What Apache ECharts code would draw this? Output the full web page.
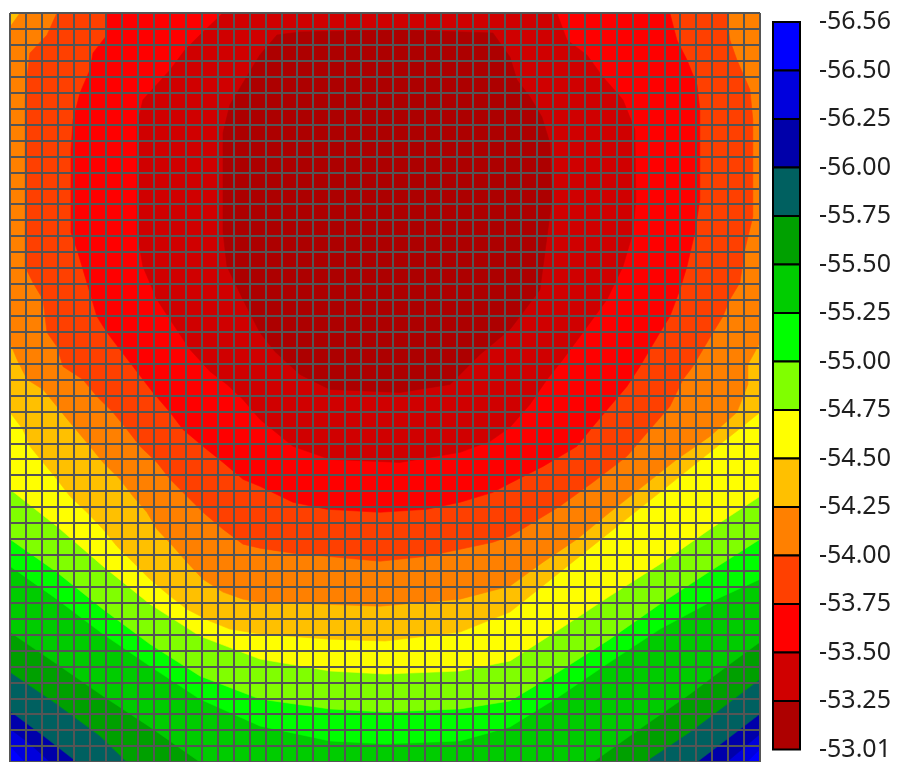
<!DOCTYPE html>
<html><head><meta charset="utf-8">
<script src="https://cdn.jsdelivr.net/npm/echarts@6/dist/echarts.min.js"></script>
<style>html,body{margin:0;padding:0;background:#fff;}#c{width:897px;height:762px;}</style>
</head><body><div id="c"></div>
<script>
// Colour-bar tick labels (top to bottom)
const colorbarLabels = ['-56.56','-56.50','-56.25','-56.00','-55.75','-55.50','-55.25','-55.00','-54.75','-54.50','-54.25','-54.00','-53.75','-53.50','-53.25','-53.01'];
// Band colours, lowest band first
const levelColors = ['#0000ff','#0000dd','#0000aa','#006060','#00a000','#00cc00','#00ff00','#80ff00','#ffff00','#ffc000','#ff8000','#ff4000','#ff0000','#d00000','#ad0000'];

// Regions where the field exceeds each contour level, in grid-cell units (x right, y down)
const wholeField = [[0,0],[47,0],[47,47],[0,47]];
const above_m56_50 = [[0,0],[47,0],[47,46.18],[46.18,47],[0.94,47],[0,45.99]];
const above_m56_25 = [[0,0],[47,0],[47,45.24],[46.05,46.05],[44.92,47],[2.51,47],[1.25,45.86],[0,44.92]];
const above_m56_00 = [[0,0],[47,0],[47,43.98],[45.11,45.43],[43.05,47],[4.2,47],[2.19,45.43],[0,43.8]];
const above_m55_75 = [[0,0],[47,0],[47,41.79],[45.11,43.23],[42.61,45.11],[39.79,47],[7.33,47],[5.64,45.36],[2.94,43.36],[0,41.35]];
const above_m55_50 = [[0,0],[47,0],[47,39.47],[45.11,40.85],[42.61,42.73],[39.47,44.92],[36.53,47],[11.9,47],[8.77,44.8],[5.83,42.86],[2.94,40.85],[0,38.85]];
const above_m55_25 = [[0,0],[47,0],[47,35.53],[43.86,36.97],[40.73,38.66],[37.59,40.73],[34.46,42.86],[31.33,44.8],[28.2,45.68],[23.5,45.86],[20.05,45.68],[15.66,44.74],[11.9,43.05],[8.77,40.98],[5.83,38.97],[2.94,36.78],[0,34.71]];
const above_m55_00 = [[0,0],[47,0],[47,33.02],[43.86,35.03],[40.73,37.09],[37.59,39.29],[34.46,41.29],[31.33,43.17],[28.2,43.67],[23.5,43.86],[20.05,43.67],[15.66,43.05],[11.9,41.6],[8.77,39.6],[5.83,37.41],[2.94,35.09],[0,33.02]];
const above_m54_75 = [[0,0],[47,0],[47,30.33],[43.86,32.39],[40.73,34.59],[37.59,36.59],[34.46,38.66],[31.33,40.66],[28.2,41.29],[23.5,41.48],[20.05,41.29],[15.66,40.54],[11.9,39.1],[8.77,37.09],[5.83,34.71],[2.94,32.21],[0,29.89]];
const above_m54_50 = [[0,0],[47,0],[47,25.06],[45.43,26.32],[43.86,27.57],[40.73,30.08],[37.59,32.58],[34.46,35.09],[31.33,37.59],[28.2,38.85],[23.5,39.41],[20.05,39.29],[15.66,38.97],[13.78,38.66],[12.53,38.16],[11.09,37.41],[10.03,36.59],[8.77,35.53],[7.71,34.46],[6.7,33.46],[5.83,32.39],[4.82,31.33],[3.76,30.33],[2.94,29.26],[2.07,28.2],[1.25,27.19],[0.81,26.13],[0,25.06]];
const above_m54_25 = [[0,0.88],[0.63,0],[47,0],[47,20.68],[46.24,22.06],[46.24,23.31],[45.55,25.06],[43.86,26.57],[41.79,28.01],[39.66,29.7],[37.59,31.33],[35.53,33.02],[33.4,34.46],[31.33,35.96],[28.2,36.78],[23.18,37.22],[17.73,37.03],[15.66,36.97],[14.6,36.78],[13.35,36.34],[12.09,35.53],[11.09,34.46],[10.21,33.46],[9.21,32.39],[8.58,31.33],[7.71,30.33],[6.89,29.26],[5.83,28.2],[5.01,27.19],[3.76,25.69],[2.94,24.69],[2.07,23.62],[1.07,23.0],[0.44,21.74],[0,20.68]];
const above_m54_00 = [[2.94,0],[2.32,1.38],[1.25,2.51],[1.07,4.01],[0.94,5.45],[0.94,15.91],[1.44,16.92],[2.07,17.98],[2.32,20.05],[2.94,20.93],[3.32,22.18],[4.57,23.0],[5.45,24.06],[6.45,25.06],[7.33,26.13],[8.15,27.19],[9.21,28.2],[10.03,29.26],[11.09,30.33],[12.09,31.33],[13.35,32.39],[14.6,33.33],[15.66,33.58],[17.73,33.9],[19.86,34.09],[23.18,34.4],[26.13,34.09],[28.2,33.65],[30.26,33.21],[31.33,32.83],[32.39,32.21],[34.46,30.95],[36.53,29.45],[38.66,27.82],[40.1,26.13],[41.35,24.69],[42.17,23.0],[42.79,22.18],[43.42,21.12],[44.05,20.05],[44.67,19.05],[45.11,17.98],[45.74,16.92],[46.05,14.85],[46.55,12.78],[46.55,6.7],[46.37,4.82],[45.55,2.94],[45.11,1.69],[44.92,0]];
const above_m53_75 = [[6.08,0],[6.08,1.38],[5.2,2.51],[5.01,3.57],[4.39,5.01],[3.95,6.7],[3.82,8.58],[3.82,13.78],[4.2,14.85],[4.82,16.92],[5.45,19.05],[6.08,20.05],[6.89,21.12],[7.71,22.18],[8.33,23.0],[8.96,23.81],[10.03,25.06],[10.84,26.13],[12.09,27.19],[13.35,28.2],[14.6,29.26],[15.66,29.7],[17.73,30.7],[19.86,31.14],[23.18,31.33],[26.13,31.14],[28.2,30.7],[30.26,30.08],[31.33,29.51],[33.4,28.45],[35.53,27.19],[36.53,25.94],[37.59,24.69],[38.66,23.43],[39.47,22.18],[40.1,21.12],[40.73,20.05],[41.35,19.05],[41.98,17.36],[42.42,15.91],[42.92,13.78],[43.23,11.72],[43.23,6.08],[43.05,4.51],[42.42,2.94],[41.79,1.69],[41.35,0]];
const above_m53_50 = [[13.35,0],[11.9,1.38],[10.96,2.32],[10.03,3.57],[8.33,5.45],[7.96,7.02],[7.96,13.78],[8.33,15.91],[9.21,17.98],[10.03,19.24],[11.28,21.12],[12.53,22.49],[13.6,23.31],[14.6,24.25],[15.66,25.5],[17.73,27.19],[20.05,28.01],[24.44,28.2],[28.2,27.57],[30.08,26.88],[31.33,26.0],[32.58,24.56],[33.65,23.0],[34.65,21.74],[35.9,20.05],[37.41,17.98],[38.41,15.91],[39.04,13.78],[39.22,11.72],[39.16,7.33],[38.41,5.45],[37.16,4.01],[36.15,2.63],[34.9,1.69],[34.27,0]];
const above_m53_25 = [[14.6,4.39],[15.66,2.63],[16.73,1.38],[18.17,1.19],[24.44,1.07],[30.26,1.25],[31.33,2.76],[31.77,4.2],[32.58,5.26],[33.33,6.52],[33.83,8.15],[33.96,11.72],[33.4,15.91],[33.21,17.36],[32.14,18.8],[31.33,19.86],[29.45,21.43],[27.57,23.31],[24.44,23.81],[20.05,23.62],[18.17,22.68],[16.6,21.24],[15.66,20.05],[14.6,17.98],[13.6,15.91],[13.35,13.78],[13.35,7.52],[13.78,5.76]];

const regions = [wholeField, above_m56_50, above_m56_25, above_m56_00, above_m55_75, above_m55_50, above_m55_25, above_m55_00, above_m54_75, above_m54_50, above_m54_25, above_m54_00, above_m53_75, above_m53_50, above_m53_25];

const chart = echarts.init(document.getElementById('c'), null, {renderer: 'canvas'});
const gridLine = {color: '#555555', width: 2};
chart.setOption({
  animation: false,
  backgroundColor: '#ffffff',
  grid: [
    {left: 10, top: 13, width: 750, height: 750, show: true, borderColor: '#b0b0b0', borderWidth: 1, backgroundColor: 'transparent'},
    {left: 773, top: 22, width: 27, height: 730}
  ],
  xAxis: [
    {gridIndex: 0, type: 'value', min: 0, max: 47, interval: 1, z: 5,
     axisLabel: {show: false}, axisTick: {show: false}, axisLine: {show: false},
     splitLine: {show: true, lineStyle: gridLine}},
    {gridIndex: 1, type: 'value', min: 0, max: 1, show: false}
  ],
  yAxis: [
    {gridIndex: 0, type: 'value', min: 0, max: 47, interval: 1, inverse: true, z: 5,
     axisLabel: {show: false}, axisTick: {show: false}, axisLine: {show: false},
     splitLine: {show: true, lineStyle: gridLine}},
    {gridIndex: 1, type: 'value', min: 0, max: 15, interval: 1, inverse: true, position: 'right',
     axisLine: {show: false}, axisTick: {show: false}, splitLine: {show: false},
     axisLabel: {formatter: v => colorbarLabels[v], margin: 19, fontSize: 25, fontFamily: 'Noto Sans', color: '#1e1e1e'}}
  ],
  series: [
    {
      type: 'custom', xAxisIndex: 0, yAxisIndex: 0, clip: true, silent: true, z: 2,
      data: regions.map((r, i) => [0, 0, i]),
      renderItem: (params, api) => {
        const i = params.dataIndex;
        return {
          type: 'polygon', z2: i,
          shape: {points: regions[i].map(p => api.coord(p))},
          style: {fill: levelColors[i], stroke: levelColors[i], lineWidth: 0.6}
        };
      }
    },
    {
      type: 'custom', xAxisIndex: 1, yAxisIndex: 1, silent: true, z: 3,
      data: levelColors.map((c, i) => [0, i]),
      renderItem: (params, api) => {
        const i = params.dataIndex;
        const a = api.coord([0, i]);
        const b = api.coord([1, i + 1]);
        return {
          type: 'rect',
          shape: {x: a[0], y: a[1], width: b[0] - a[0], height: b[1] - a[1]},
          style: {fill: levelColors[i], stroke: '#000000', lineWidth: 2}
        };
      }
    }
  ]
});
</script></body></html>
